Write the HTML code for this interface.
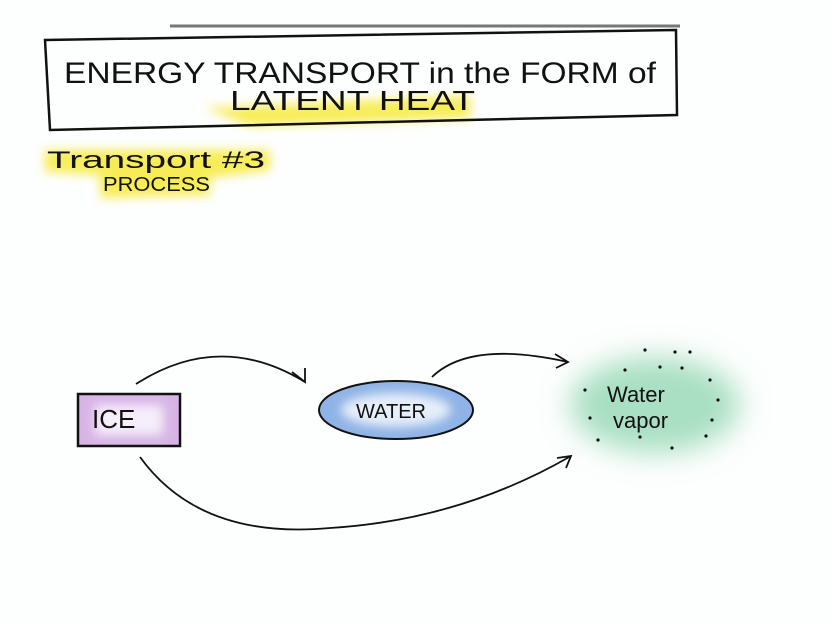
<html><body style="margin:0;background:#fff">
<svg width="832" height="624" viewBox="0 0 832 624" xmlns="http://www.w3.org/2000/svg">
<defs>
<filter id="b" x="-50%" y="-50%" width="200%" height="200%"><feGaussianBlur stdDeviation="5"/></filter>
<filter id="b2" x="-50%" y="-50%" width="200%" height="200%"><feGaussianBlur stdDeviation="14"/></filter>
</defs>
<rect width="832" height="624" fill="#fdfefe"/>
<line x1="170" y1="26" x2="680" y2="26" stroke="#777" stroke-width="3"/>
<path d="M205 108 L470 96 L470 118 L250 126 Z" fill="#f6ea3a" filter="url(#b)" opacity="0.85"/>
<path d="M45 150 L270 150 L270 170 L210 178 L210 195 L100 198 L100 175 L45 172 Z" fill="#f6ea3a" filter="url(#b)" opacity="0.85"/>
<path d="M45 40 L676 30 L677 115 L50 130 Z" fill="none" stroke="#111" stroke-width="2.5"/>
<g font-family="Liberation Sans, sans-serif" fill="#111">
<text x="64" y="83" font-size="30" textLength="592" lengthAdjust="spacingAndGlyphs">ENERGY TRANSPORT in the FORM of</text>
<text x="230" y="110" font-size="28" textLength="245" lengthAdjust="spacingAndGlyphs">LATENT   HEAT</text>
<text x="47" y="168" font-size="24" textLength="218" lengthAdjust="spacingAndGlyphs">Transport #3</text>
<text x="103" y="191" font-size="20" textLength="107" lengthAdjust="spacingAndGlyphs">PROCESS</text>
</g>
<rect x="78" y="394" width="102" height="52" fill="#d7b4e6" stroke="#111" stroke-width="2.5"/>
<rect x="95" y="405" width="68" height="30" fill="#f6eefa" filter="url(#b)"/>
<ellipse cx="396" cy="410" rx="77" ry="29" fill="#8fb3e6" stroke="#111" stroke-width="2"/>
<ellipse cx="396" cy="410" rx="55" ry="17" fill="#e6eefa" filter="url(#b)"/>
<ellipse cx="655" cy="405" rx="85" ry="48" fill="#a9dfc2" filter="url(#b2)"/>
<g fill="#111">
<circle cx="645" cy="350" r="1.6"/><circle cx="675" cy="352" r="1.6"/><circle cx="690" cy="352" r="1.6"/><circle cx="625" cy="370" r="1.6"/><circle cx="660" cy="367" r="1.6"/><circle cx="682" cy="368" r="1.6"/><circle cx="710" cy="380" r="1.6"/><circle cx="585" cy="390" r="1.6"/><circle cx="718" cy="400" r="1.6"/><circle cx="590" cy="418" r="1.6"/><circle cx="712" cy="420" r="1.6"/><circle cx="598" cy="440" r="1.6"/><circle cx="640" cy="437" r="1.6"/><circle cx="672" cy="448" r="1.6"/><circle cx="706" cy="436" r="1.6"/>
</g>
<g font-family="Liberation Sans, sans-serif" fill="#111">
<text x="356" y="418" font-size="20">WATER</text>
<text x="92" y="428" font-size="26">ICE</text>
<text x="607" y="402" font-size="22">Water</text>
<text x="613" y="428" font-size="22">vapor</text>
</g>
<g fill="none" stroke="#111" stroke-width="1.8">
<path d="M136 384 Q220 330 305 382"/><path d="M292 372 L305 382 L305 368"/>
<path d="M432 377 Q470 340 568 362"/><path d="M555 354 L568 362 L556 368"/>
<path d="M140 457 Q200 540 330 528 Q460 520 571 456"/><path d="M557 458 L571 456 L566 468"/>
</g>
</svg>
</body></html>
